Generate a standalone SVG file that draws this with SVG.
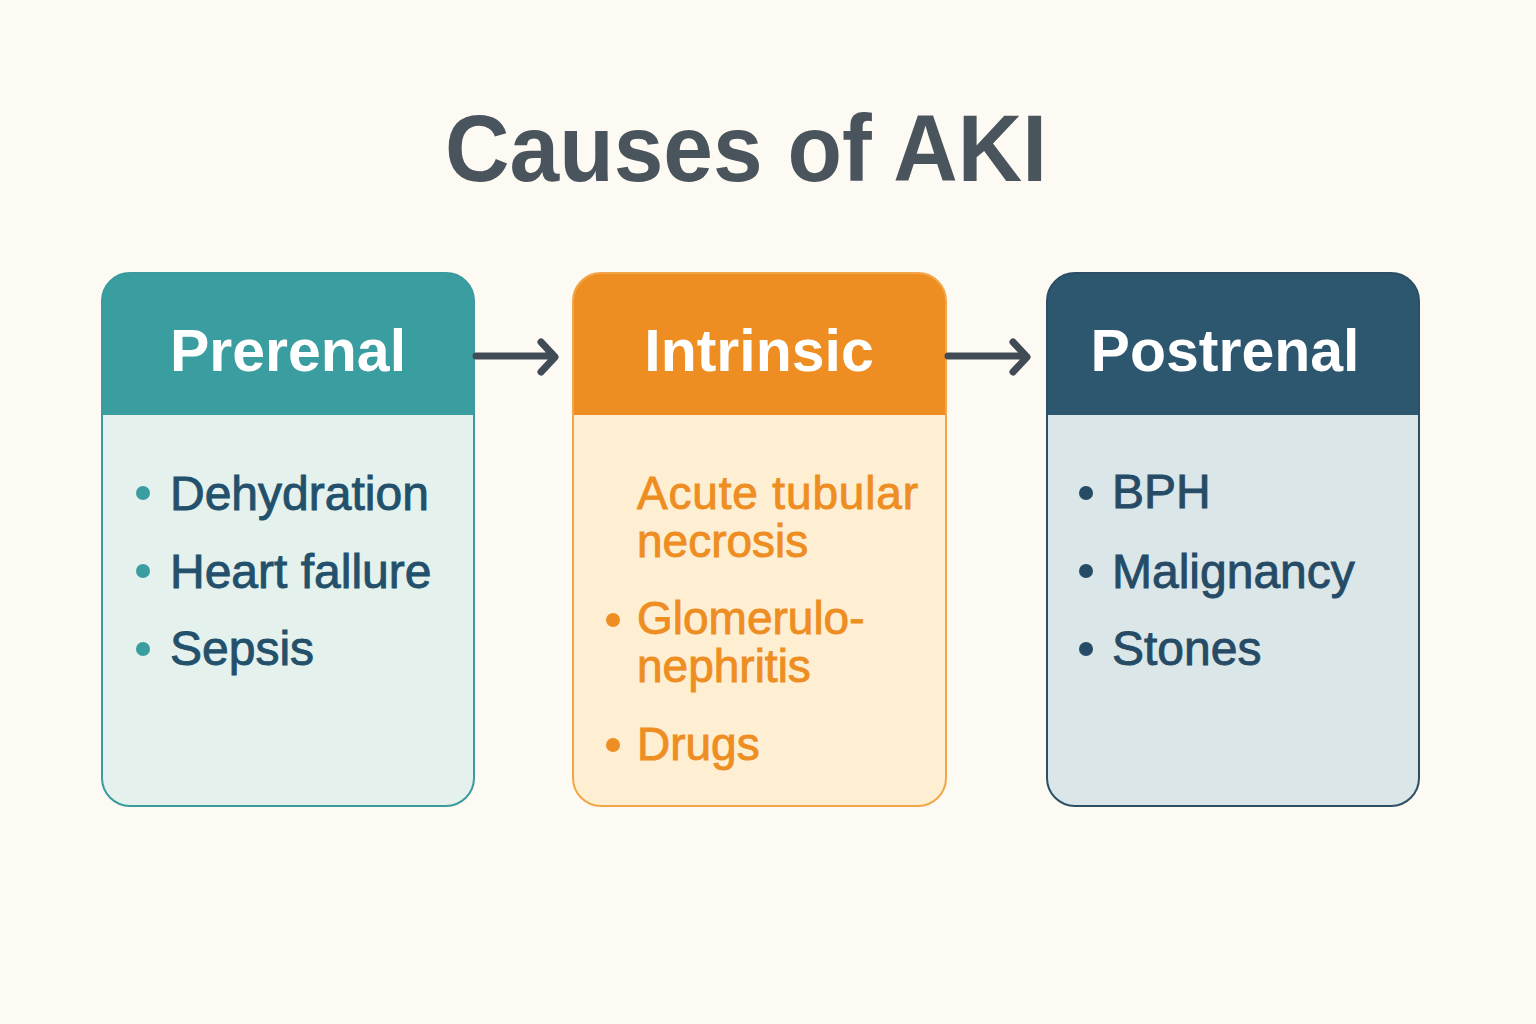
<svg xmlns="http://www.w3.org/2000/svg" width="1536" height="1024" viewBox="0 0 1536 1024">
<style>
.title{font-family:"Liberation Sans",Arial,sans-serif;font-weight:bold;font-size:95px;fill:#4A545C;text-anchor:middle}
.head{font-family:"Liberation Sans",Arial,sans-serif;font-weight:bold;font-size:59px;fill:#FFFFFF;text-anchor:middle}
.item{font-family:"Liberation Sans",Arial,sans-serif;font-size:48px;stroke-width:0.9}
.conn{fill:none;stroke:#414B55;stroke-width:7;stroke-linecap:round;stroke-linejoin:round}
</style>
<defs>
<clipPath id="c1"><rect x="102" y="273" width="372" height="533" rx="28"/></clipPath>
<clipPath id="c2"><rect x="573" y="273" width="373" height="533" rx="28"/></clipPath>
<clipPath id="c3"><rect x="1047" y="273" width="372" height="533" rx="28"/></clipPath>
</defs>
<rect width="1536" height="1024" fill="#FDFAF3"/>
<text class="title" x="746" y="181" textLength="602" lengthAdjust="spacingAndGlyphs">Causes of AKI</text>

<g id="prerenal">
<g clip-path="url(#c1)">
<rect x="102" y="273" width="372" height="533" fill="#E4F1EC"/>
<rect x="102" y="273" width="372" height="142" fill="#3A9EA0"/>
</g>
<rect x="102" y="273" width="372" height="533" rx="28" fill="none" stroke="#3A9A9E" stroke-width="2"/>
<text class="head" x="288" y="371">Prerenal</text>
<g fill="#3A9EA0"><circle cx="143" cy="493" r="7"/><circle cx="143" cy="571" r="7"/><circle cx="143" cy="649" r="7"/></g>
<g class="item" fill="#23506B" stroke="#23506B">
<text x="170" y="510">Dehydration</text>
<text x="170" y="588">Heart fallure</text>
<text x="170" y="665">Sepsis</text>
</g>
</g>

<g id="intrinsic">
<g clip-path="url(#c2)">
<rect x="573" y="273" width="373" height="533" fill="#FEEFD3"/>
<rect x="573" y="273" width="373" height="142" fill="#EE8E22"/>
</g>
<rect x="573" y="273" width="373" height="533" rx="28" fill="none" stroke="#F2A64A" stroke-width="2"/>
<text class="head" x="759" y="371">Intrinsic</text>
<g fill="#EE8E22"><circle cx="613" cy="620" r="7"/><circle cx="613" cy="745" r="7"/></g>
<g class="item" fill="#EE8E22" stroke="#EE8E22" style="font-size:46px">
<text x="637" y="509" textLength="281">Acute tubular</text>
<text x="637" y="557">necrosis</text>
<text x="637" y="634">Glomerulo-</text>
<text x="637" y="682">nephritis</text>
<text x="637" y="760">Drugs</text>
</g>
</g>

<g id="postrenal">
<g clip-path="url(#c3)">
<rect x="1047" y="273" width="372" height="533" fill="#DBE6E8"/>
<rect x="1047" y="273" width="372" height="142" fill="#2D566F"/>
</g>
<rect x="1047" y="273" width="372" height="533" rx="28" fill="none" stroke="#2D4F66" stroke-width="2"/>
<text class="head" x="1225" y="371">Postrenal</text>
<g fill="#264B66"><circle cx="1086" cy="493" r="7"/><circle cx="1086" cy="571" r="7"/><circle cx="1086" cy="649" r="7"/></g>
<g class="item" fill="#264B66" stroke="#264B66">
<text x="1112" y="508">BPH</text>
<text x="1112" y="588">Malignancy</text>
<text x="1112" y="665">Stones</text>
</g>
</g>

<g id="connectors">
<path class="conn" d="M476 356 H554 M541 342 L555 357 L541 372"/>
<path class="conn" d="M948 356 H1026 M1013 342 L1027 357 L1013 372"/>
</g>
</svg>
